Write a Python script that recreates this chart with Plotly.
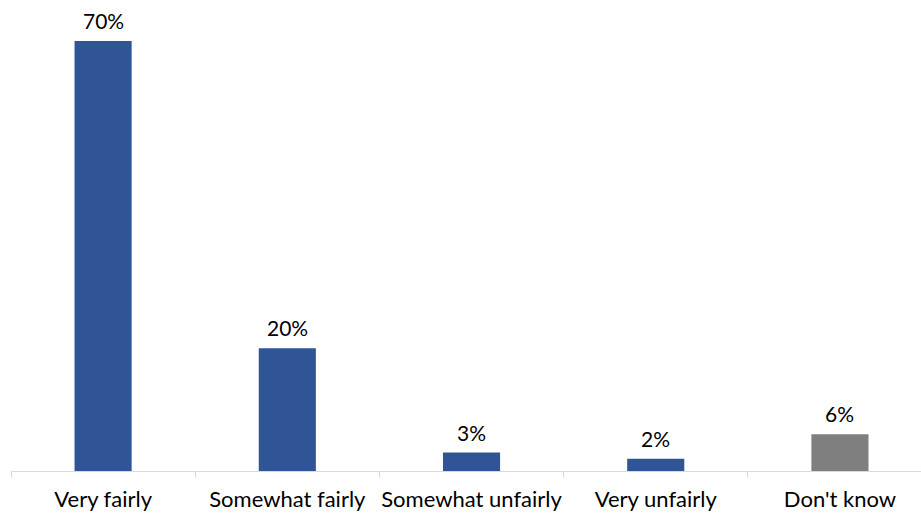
import plotly.graph_objects as go

categories = ["Very fairly", "Somewhat fairly", "Somewhat unfairly", "Very unfairly", "Don't know"]
values = [70, 20, 3, 2, 6]
labels = ["70%", "20%", "3%", "2%", "6%"]
colors = ["#2F5597", "#2F5597", "#2F5597", "#2F5597", "#7F7F7F"]

FONT = "Lato, Open Sans, sans-serif"

fig = go.Figure(go.Bar(
    x=categories, y=values,
    marker=dict(color=colors, line=dict(width=0)),
    width=0.31, cliponaxis=False, hoverinfo="skip",
))
for c, v, t in zip(categories, values, labels):
    fig.add_annotation(x=c, y=v, text=t, showarrow=False, yanchor="bottom", yshift=6,
                       font=dict(family=FONT, size=21, color="#000000"))

fig.update_layout(
    width=921, height=514,
    margin=dict(l=11, r=0, t=0, b=43),
    paper_bgcolor="white", plot_bgcolor="white",
    showlegend=False,
    font=dict(family=FONT, size=22, color="#000000"),
    xaxis=dict(type="category", range=[-0.5, 4.44], showline=True, linecolor="#D9D9D9", linewidth=1,
               ticks="outside", tickson="boundaries", ticklen=6, tickcolor="#D9D9D9",
               ticklabelstandoff=9, showgrid=False, tickfont=dict(size=22),
               tickangle=0, automargin=False),
    yaxis=dict(range=[0, 76.67], visible=False, showgrid=False, zeroline=False, automargin=False),
)
fig.write_html("out.html", post_script="document.body.style.margin='0';",
               config={"displayModeBar": False})
